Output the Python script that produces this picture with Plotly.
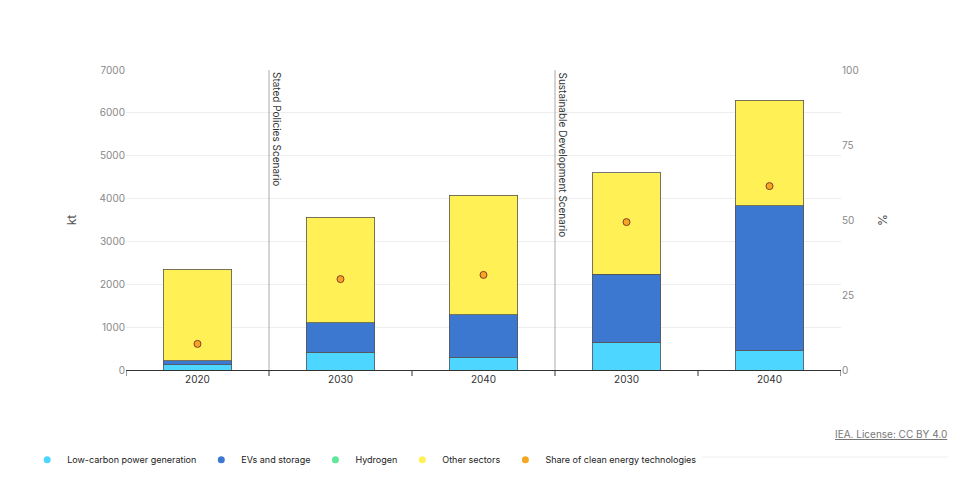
import plotly.graph_objects as go

cats = ["2020", "2030", "2040", "2030", "2040"]
low_carbon = [120, 420, 300, 650, 465]
evs = [95, 680, 990, 1590, 3365]
hydrogen = [0, 0, 0, 0, 0]
other = [2135, 2470, 2790, 2360, 2470]
share = [8.7, 30.3, 31.7, 49.3, 61.3]
scenarios = ["Stated Policies Scenario", "Sustainable Development Scenario"]

x = list(range(len(cats)))
fig = go.Figure()
line = dict(color="#555", width=0.8)
series = [("Low-carbon power generation", low_carbon, "#4dd6ff"),
          ("EVs and storage", evs, "#3c78d0"),
          ("Hydrogen", hydrogen, "#5ee89a"),
          ("Other sectors", other, "#fff155")]
for name, vals, col in series:
    fig.add_bar(x=x, y=vals, name=name, marker=dict(color=col, line=line), width=0.48, showlegend=False)
fig.add_scatter(x=x, y=share, yaxis="y2", mode="markers", name="Share of clean energy technologies",
                showlegend=False,
                marker=dict(color="#f5a623", size=7, line=dict(color="#8a3b2a", width=1)))
for name, col in [(s[0], s[2]) for s in series] + [("Share of clean energy technologies", "#f5a623")]:
    fig.add_scatter(x=[None], y=[None], mode="markers", name=name,
                    marker=dict(color=col, size=7, symbol="circle"))

for xs, t in zip([0.5, 2.5], scenarios):
    fig.add_shape(type="line", x0=xs, x1=xs, y0=0, y1=1, yref="paper", line=dict(color="#aaa", width=1))
    fig.add_annotation(x=xs, y=1, yref="paper", text=t, textangle=90, showarrow=False,
                       xanchor="left", yanchor="top", font=dict(size=10, color="#333"))

fig.add_annotation(x=1, y=-0.24, xref="paper", yref="paper", text="<u>IEA. License: CC BY 4.0</u>",
                   showarrow=False, xanchor="right", xshift=108, font=dict(size=10, color="#777"))
fig.add_shape(type="line", xref="paper", yref="paper", x0=-0.13, x1=1.15, y0=-0.29, y1=-0.29,
              line=dict(color="#eee", width=1))

fig.update_layout(
    barmode="stack", width=959, height=491, plot_bgcolor="white", paper_bgcolor="white",
    margin=dict(l=118, r=126, t=62, b=129, autoexpand=False),
    font=dict(family="Inter, Noto Sans, sans-serif", size=10, color="#555"),
    xaxis=dict(tickvals=x, ticktext=cats, range=[-0.5, 4.5], showline=True, linecolor="#333",
               ticks="", showgrid=False, tickfont=dict(color="#333")),
    yaxis=dict(range=[0, 7000], dtick=1000, gridcolor="#eee", title=dict(text="kt", standoff=20),
               zeroline=False, tickfont=dict(color="#888")),
    yaxis2=dict(range=[0, 100], dtick=25, overlaying="y", side="right", showgrid=False,
                title=dict(text="%", standoff=20), tickfont=dict(color="#888")),
    legend=dict(orientation="h", xref="container", yref="container", x=0.02, y=0.08,
                xanchor="left", yanchor="middle", traceorder="normal",
                font=dict(size=9, color="#222"), itemwidth=30),
)
for b in [-0.5, 0.5, 1.5, 2.5, 3.5, 4.5]:
    fig.add_shape(type="line", x0=b, x1=b, y0=0, y1=-0.02, yref="paper", line=dict(color="#333", width=1))
fig.write_html("out.html")
